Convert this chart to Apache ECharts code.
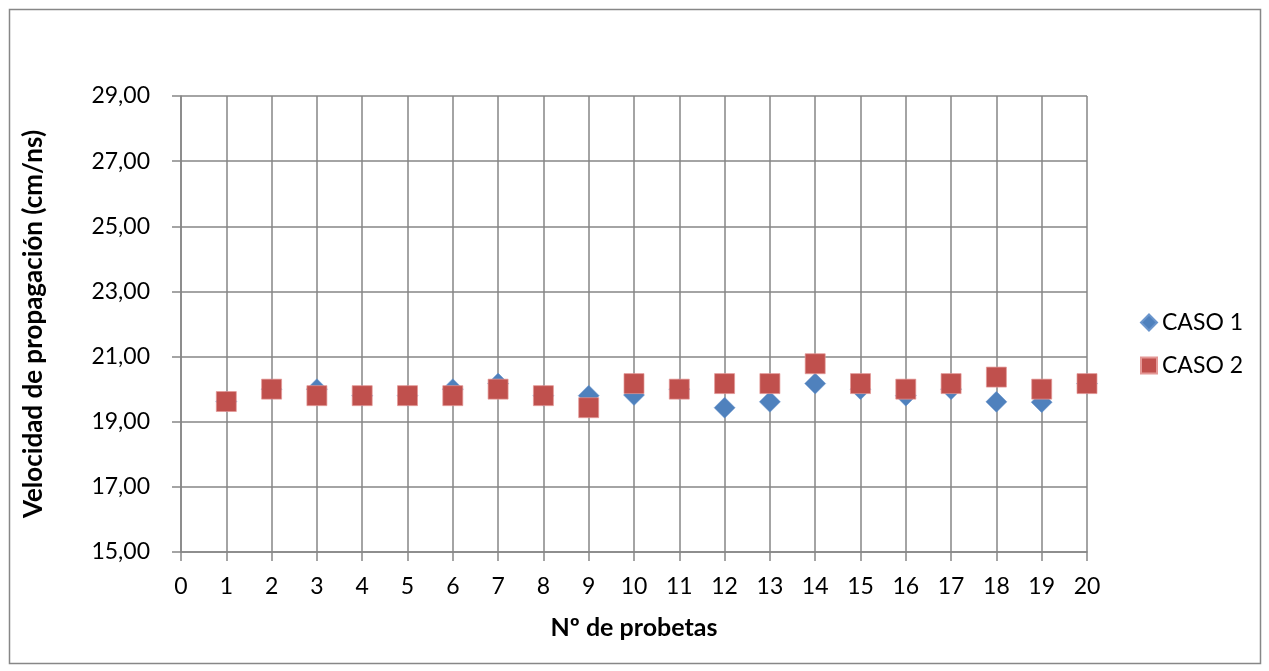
<!DOCTYPE html>
<html><head><meta charset="utf-8">
<script src="https://cdn.jsdelivr.net/npm/echarts@6/dist/echarts.min.js"></script>
<style>html,body{margin:0;padding:0;background:#fff}#c{width:1269px;height:671px}</style>
</head><body><div id="c"></div>
<script>
const probetas = [1,2,3,4,5,6,7,8,9,10,11,12,13,14,15,16,17,18,19,20];
const caso1 = [19.62,20.0,20.0,19.8,19.8,20.0,20.17,19.8,19.8,19.82,20.0,19.43,19.61,20.17,20.0,19.8,20.0,19.61,19.6,20.17];
const caso2 = [19.62,20.0,19.8,19.8,19.8,19.8,20.0,19.8,19.43,20.17,20.0,20.17,20.17,20.78,20.17,20.0,20.17,20.37,20.0,20.17];
const yTicks = {min:15, max:29, interval:2};
const xTicks = {min:0, max:20, interval:1};
const seriesNames = ['CASO 1','CASO 2'];
const FONT = 'Lato, "Open Sans", sans-serif';
const chart = echarts.init(document.getElementById('c'));
const gridColor = '#868686';
chart.setOption({
  animation:false,
  textStyle:{fontFamily:FONT},
  graphic:[{type:'rect',shape:{x:9.5,y:9.5,width:1251,height:654},style:{fill:'none',stroke:'#878787',lineWidth:1.5},silent:true}],
  grid:{left:181,top:96,width:906,height:456},
  xAxis:{type:'value',min:xTicks.min,max:xTicks.max,interval:xTicks.interval,
    name:'Nº de probetas',nameLocation:'middle',nameGap:63,
    nameTextStyle:{fontFamily:FONT,fontSize:25,fontWeight:'bold',color:'#000'},
    axisLine:{show:true,lineStyle:{color:gridColor,width:1.5}},
    axisTick:{show:true,length:9,lineStyle:{color:gridColor,width:1.5}},
    axisLabel:{fontFamily:FONT,fontSize:23,color:'#000',margin:23},
    splitLine:{show:true,lineStyle:{color:gridColor,width:1.5}}},
  yAxis:{type:'value',min:yTicks.min,max:yTicks.max,interval:yTicks.interval,
    name:'Velocidad de propagación (cm/ns)',nameLocation:'middle',nameGap:134,nameRotate:90,
    nameTextStyle:{fontFamily:FONT,fontSize:26,fontWeight:'bold',color:'#000'},
    axisLine:{show:true,lineStyle:{color:gridColor,width:1.5}},
    axisTick:{show:true,length:9,lineStyle:{color:gridColor,width:1.5}},
    axisLabel:{fontFamily:FONT,fontSize:23,color:'#000',margin:31,formatter:v=>v.toFixed(2).replace('.',',')},
    splitLine:{show:true,lineStyle:{color:gridColor,width:1.5}}},
  legend:{orient:'vertical',left:1135,top:306,itemGap:20,itemWidth:16,itemHeight:16,
    textStyle:{fontFamily:FONT,fontSize:23,color:'#000'},
    data:[{name:seriesNames[0],icon:'diamond'},{name:seriesNames[1],icon:'rect'}]},
  series:[
    {name:seriesNames[0],type:'scatter',symbol:'diamond',symbolSize:21,
     itemStyle:{color:'#4F81BD',borderColor:'#6A95CC',borderWidth:0.5,opacity:1},
     data:probetas.map((p,i)=>[p,caso1[i]])},
    {name:seriesNames[1],type:'scatter',symbol:'rect',symbolSize:20,
     itemStyle:{color:'#C0504D',borderColor:'#E49896',borderWidth:0.7,opacity:1},
     data:probetas.map((p,i)=>[p,caso2[i]])}
  ]
});
</script></body></html>
